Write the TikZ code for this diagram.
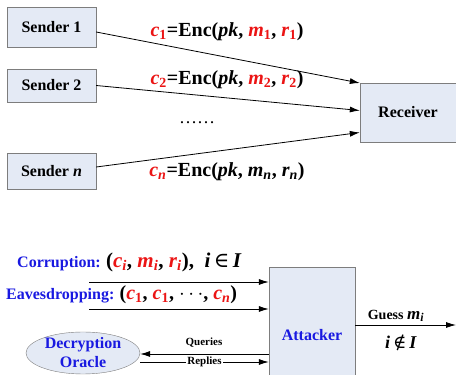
\documentclass[tikz,border=0pt]{standalone}
\usepackage{fontspec}
\setmainfont{Liberation Serif}
\newfontfamily\symfont{DejaVu Serif}
\usepackage{tikz}
\usetikzlibrary{positioning, arrows.meta, shapes.geometric, calc}

\newcommand{\rt}[1]{\textcolor{red}{#1}}
\newcommand{\bt}[1]{\textcolor{blue}{#1}}
\newcommand{\vr}[2]{\textit{#1}\textsubscript{#2}}

\begin{document}
\begin{tikzpicture}[x=1pt, y=1pt,
    party/.style={draw=boxG, fill=boxC, rectangle, minimum width=89pt,
                  minimum height=36pt, font=\fontsize{16}{19}\selectfont\bfseries},
    msg/.style={font=\fontsize{20}{23}\selectfont\bfseries, inner sep=0pt},
    lbl/.style={font=\fontsize{16}{19}\selectfont\bfseries, inner sep=0pt},
    small/.style={font=\fontsize{11}{13}\selectfont\bfseries, inner sep=1pt},
    arr/.style={-{Latex[length=10pt, width=6pt]}, thick},
]

% Color definitions
\definecolor{boxC}{RGB}{228,234,245}
\definecolor{boxG}{RGB}{125,125,125}
\definecolor{red}{RGB}{235,20,20}
\definecolor{blue}{RGB}{25,25,225}

\useasboundingbox (0,0) rectangle (456,375);

% Encryption setting
\node[party, minimum height=40pt] (s1) at (51.5,348) {Sender 1};
\node[party, minimum height=33pt] (s2) at (51.5,289.5) {Sender 2};
\node[party] (sn) at (51.5,204) {Sender \textit{n}};
\node[party, minimum width=96pt, minimum height=59pt] (rcv) at (408,262.5) {Receiver};

\foreach \a/\da/\db in {s1/-5/29.5, s2/0/2, sn/4/-20} {
  \draw[arr] ($(\a.east)+(0,\da)$) -- ($(rcv.west)+(0,\db)$);
}

\node[msg] (c1) at (227,343)
  {\rt{\vr{c}{1}}=Enc(\textit{pk}, \rt{\vr{m}{1}}, \rt{\vr{r}{1}})};
\node[msg] (c2) at (227,295)
  {\rt{\vr{c}{2}}=Enc(\textit{pk}, \rt{\vr{m}{2}}, \rt{\vr{r}{2}})};
\node[msg, anchor=base, font=\fontsize{18}{20}\selectfont] (dots) at (197,251) {……};
\node[msg] (cn) at (227,203)
  {\rt{\vr{c}{\textit{n}}}=Enc(\textit{pk}, \vr{m}{\textit{n}}, \vr{r}{\textit{n}})};

% Attack setting
\node[party, minimum width=86pt, minimum height=136pt, text=blue] (att) at (312,40) {Attacker};
\node[ellipse, draw=boxG, fill=boxC, minimum width=114pt, minimum height=42pt,
      inner sep=0pt] (orc) at (83,22) {};
\node[lbl, text=blue, align=center] (orct) at (orc) {Decryption\\Oracle};

\node[lbl, anchor=west] (cor) at (17,113)
  {\bt{Corruption:} {\fontsize{21}{24}\selectfont (\rt{\vr{c}{\textit{i}}}, \rt{\vr{m}{\textit{i}}}, \rt{\vr{r}{\textit{i}}}),\enspace\textit{i}\,{\symfont\mdseries ∈}\,\textit{I}}};
\node[lbl, anchor=west] (eav) at (6,80)
  {\bt{Eavesdropping:} {\fontsize{20}{23}\selectfont (\rt{\vr{c}{1}}, \rt{\vr{c}{1}}, $\cdots$, \rt{\vr{c}{\textit{n}}})}};

\coordinate (cor0) at (89,93);
\coordinate (eav0) at (89,66);
\draw[arr] (cor0) -- (att.west |- cor0);
\draw[arr] (eav0) -- (att.west |- eav0);

\coordinate (qy) at (0,21);
\coordinate (ry) at (0,13);
\draw[arr] (att.west |- qy) -- (orc.east |- qy);
\draw[arr] (orc.east |- ry) -- node[small, fill=white] {Replies} (att.west |- ry);
\node[small] (qry) at (204,32) {Queries};

\coordinate (gend) at (456,50);
\draw[arr] (att.east |- gend) -- (gend);
\node[lbl, font=\fontsize{14}{16}\selectfont\bfseries] (gss) at (396,59)
  {Guess {\fontsize{17}{19}\selectfont\vr{m}{\textit{i}}}};
\node[lbl, font=\fontsize{18}{21}\selectfont\bfseries] (nin) at (401,32)
  {\textit{i}\,{\symfont\mdseries ∉}\,\textit{I}};

\end{tikzpicture}
\end{document}
